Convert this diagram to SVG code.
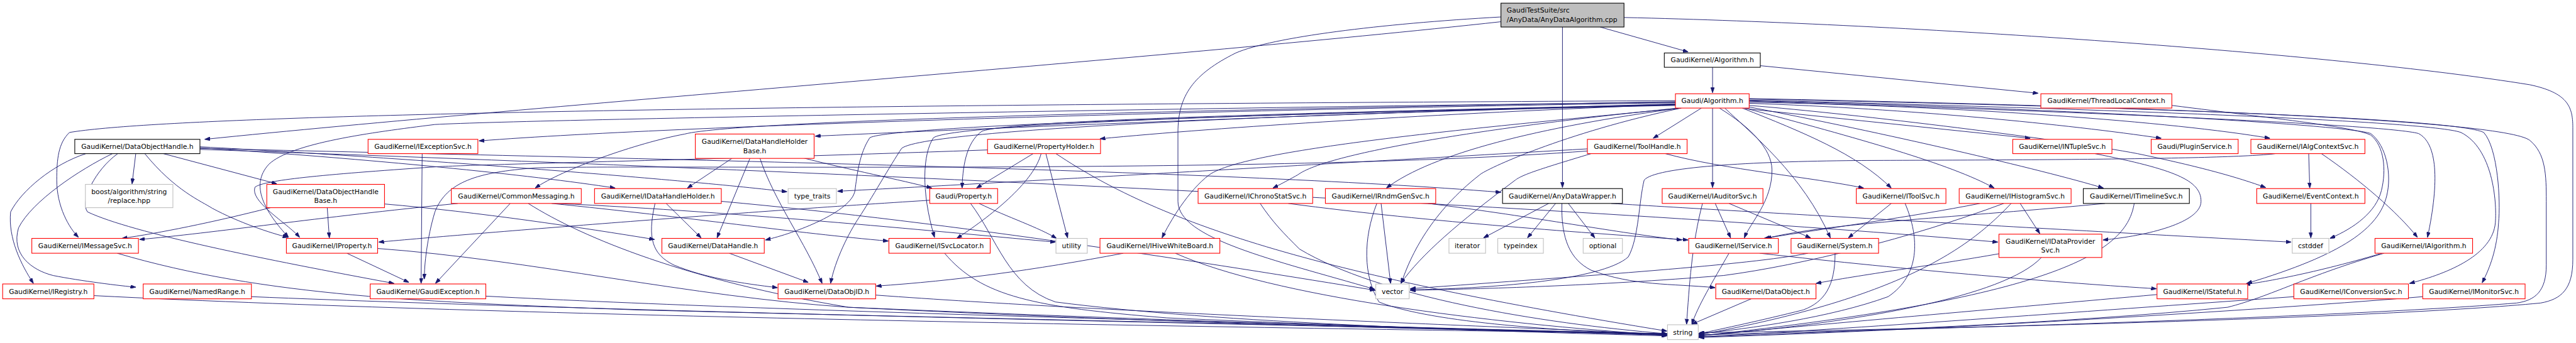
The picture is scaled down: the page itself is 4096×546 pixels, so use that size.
<svg xmlns="http://www.w3.org/2000/svg" width="4096" height="546" viewBox="0 0 4096 546">
<defs>
<style>
.e{fill:none;stroke:#191970;stroke-width:1.1;marker-end:url(#a)}
.n rect{fill:#ffffff;stroke-width:1.3}
.r rect{stroke:#ff0000}
.k rect{stroke:#000000}
.g rect{stroke:#bfbfbf}
text{font-family:"DejaVu Sans","Liberation Sans",sans-serif;font-size:12.8px;fill:#000000;text-anchor:middle}
</style>
<marker id="a" viewBox="0 0 10 7" refX="10" refY="3.5" markerWidth="10" markerHeight="7" markerUnits="userSpaceOnUse" orient="auto"><path d="M0,0L10,3.5L0,7z" fill="#191970" stroke="#191970"/></marker>
</defs>
<rect width="4096" height="546" fill="#ffffff"/>
<g transform="scale(0.84332)">
<g id="edges">
<path class="e" d="M3017,51 L3183,98"/>
<path class="e" d="M2946,51 L2946,354"/>
<path class="e" d="M2830,41 C2200,110 1000,200 386,263"/>
<path class="e" d="M2830,32 C2600,45 2400,70 2330,100 C2250,140 2221,180 2221,250 L2221,380 C2221,450 2400,490 2592,546"/>
<path class="e" d="M3062,33 C3600,45 4400,100 4770,160 C4840,175 4851,200 4851,240 L4851,490 C4851,545 4830,565 4790,572 C4500,600 3700,620 3204,628"/>
<path class="e" d="M3229,127 L3229,175"/>
<path class="e" d="M3319,124 L3843,176"/>
<path class="e" d="M3208,204 L3117,261"/>
<path class="e" d="M3229,204 L3229,354"/>
<path class="e" d="M3290,205 L3828,261"/>
<path class="e" d="M3298,195 C3600,205 3900,235 4075,261"/>
<path class="e" d="M3298,193 C3700,200 4100,230 4280,261"/>
<path class="e" d="M3298,199 C3500,215 3900,265 4030,290 C4150,315 4220,335 4272,354"/>
<path class="e" d="M3298,191 C3900,210 4500,235 4560,252 C4595,270 4600,340 4577,448"/>
<path class="e" d="M3298,189 C3950,205 4580,228 4640,250 C4700,280 4708,380 4705,420 C4700,480 4620,515 4543,535"/>
<path class="e" d="M3298,187 C3950,200 4630,222 4683,250 C4710,280 4715,380 4711,420 C4708,470 4695,505 4680,534"/>
<path class="e" d="M3298,190 C3900,205 4420,235 4470,252 C4500,275 4510,330 4500,370 C4485,430 4420,480 4236,535"/>
<path class="e" d="M4095,199 C4300,225 4440,240 4470,255 C4495,275 4500,320 4490,360 C4480,400 4440,430 4393,450"/>
<path class="e" d="M3298,186 C4000,200 4720,225 4770,265 C4800,290 4801,330 4801,380 L4801,500 C4801,550 4780,567 4745,572 C4400,600 3600,622 3204,632"/>
<path class="e" d="M3242,204 C3300,240 3340,280 3341,320 C3342,380 3300,420 3289,449"/>
<path class="e" d="M3252,204 C3300,250 3400,330 3451,449"/>
<path class="e" d="M3285,204 C3400,250 3500,290 3566,355"/>
<path class="e" d="M3290,204 C3500,260 3680,310 3760,355"/>
<path class="e" d="M3298,202 C3550,250 3850,320 3966,355"/>
<path class="e" d="M3170,204 C2800,240 2350,280 2280,330 C2240,360 2205,420 2191,449"/>
<path class="e" d="M3165,204 C2800,240 2500,290 2447,330 C2420,345 2410,350 2400,355"/>
<path class="e" d="M3168,204 C2900,240 2700,290 2614,355"/>
<path class="e" d="M3170,204 C2950,250 2800,320 2790,330 C2700,400 2660,480 2642,535"/>
<path class="e" d="M3000,290 C2900,320 2870,330 2857,340 C2750,420 2680,480 2641,535"/>
<path class="e" d="M3159,197 C2700,215 2300,240 2074,262"/>
<path class="e" d="M3159,196 C2500,215 1800,245 1537,257"/>
<path class="e" d="M3159,194 C2400,205 1300,235 903,266"/>
<path class="e" d="M3159,190 C2200,195 400,205 131,250 C110,270 107,300 107,340 C107,390 130,430 148,448"/>
<path class="e" d="M3159,192 C2400,205 1400,225 1291,253 C1200,270 1060,320 1009,355"/>
<path class="e" d="M3159,193 C2500,200 1000,225 820,235 C700,250 549,270 507,310 C470,350 500,400 544,448"/>
<path class="e" d="M3159,197 C2600,210 1900,225 1851,248 C1820,270 1815,320 1814,355"/>
<path class="e" d="M3159,198 C2600,210 1800,230 1760,260 C1740,290 1736,360 1762,448"/>
<path class="e" d="M3159,199 C2600,210 1750,240 1700,280 C1680,310 1640,380 1620,410 C1600,440 1575,490 1566,535"/>
<path class="e" d="M3159,198 C2600,210 1680,235 1640,260 C1620,290 1616,330 1612,360 C1605,400 1500,440 1443,453"/>
<path class="e" d="M308,290 L522,347"/>
<path class="e" d="M256,290 L249,347"/>
<path class="e" d="M162,290 C100,310 40,360 20,400 C15,450 40,500 63,535"/>
<path class="e" d="M212,290 C150,320 60,380 35,430 C20,480 60,510 100,520 C150,530 230,540 256,542"/>
<path class="e" d="M222,290 C180,320 150,380 165,400 C250,440 500,490 743,535"/>
<path class="e" d="M273,290 C330,360 380,380 400,393 C450,420 510,440 543,448"/>
<path class="e" d="M377,277 C800,300 1300,340 1484,362"/>
<path class="e" d="M377,279 C700,300 1000,330 1160,355"/>
<path class="e" d="M377,280 C1200,300 2300,320 2830,363"/>
<path class="e" d="M377,282 C1500,320 3000,390 3767,457"/>
<path class="e" d="M510,392 C400,420 300,440 230,450"/>
<path class="e" d="M617,392 L621,449"/>
<path class="e" d="M725,385 C900,400 1100,430 1234,452"/>
<path class="e" d="M796,290 L794,535"/>
<path class="e" d="M1380,299 L1296,355"/>
<path class="e" d="M1414,299 L1352,449"/>
<path class="e" d="M1433,299 C1460,380 1520,460 1550,535"/>
<path class="e" d="M1514,298 C1600,320 1700,340 1757,355"/>
<path class="e" d="M1948,290 L1841,355"/>
<path class="e" d="M1963,290 C1950,340 1880,400 1804,450"/>
<path class="e" d="M1972,290 L2013,449"/>
<path class="e" d="M1862,283 C1400,300 900,310 820,315 C600,330 500,340 481,353 C470,380 540,420 565,448"/>
<path class="e" d="M1991,290 C2200,430 2500,520 3143,625"/>
<path class="e" d="M863,384 C600,410 400,440 263,452"/>
<path class="e" d="M962,384 L821,535"/>
<path class="e" d="M996,384 C1100,450 1300,530 1600,580 C2200,610 2800,625 3143,630"/>
<path class="e" d="M1040,384 C1300,410 1500,440 1675,455"/>
<path class="e" d="M1050,384 C1400,400 1800,440 1990,457"/>
<path class="e" d="M1256,384 L1322,449"/>
<path class="e" d="M1235,384 C1220,450 1230,480 1270,500 C1330,525 1400,535 1466,543"/>
<path class="e" d="M1360,380 C1800,420 2300,500 2593,548"/>
<path class="e" d="M2993,281 C2400,315 1800,350 1579,361"/>
<path class="e" d="M3140,290 C3250,320 3420,335 3514,355"/>
<path class="e" d="M2993,285 C2400,330 1200,310 1009,317 C900,325 842,343 820,400 C805,450 800,500 800,527"/>
<path class="e" d="M2429,384 C2700,420 3000,440 3183,453"/>
<path class="e" d="M2376,384 C2400,420 2420,440 2450,470 C2600,560 2900,610 3143,630"/>
<path class="e" d="M2596,384 C2570,450 2570,520 2600,570 C2700,610 2950,625 3143,632"/>
<path class="e" d="M2604,384 L2622,535"/>
<path class="e" d="M2693,384 C2900,410 3050,440 3171,453"/>
<path class="e" d="M2920,384 L2797,449"/>
<path class="e" d="M2933,384 L2880,449"/>
<path class="e" d="M2957,384 L3007,449"/>
<path class="e" d="M2945,384 C2943,450 2960,490 3000,510 C3080,540 3150,535 3234,543"/>
<path class="e" d="M3038,384 C3300,400 4000,440 4320,457"/>
<path class="e" d="M3234,384 L3263,449"/>
<path class="e" d="M3260,384 L3414,449"/>
<path class="e" d="M3210,384 C3190,460 3185,540 3180,612"/>
<path class="e" d="M3566,384 L3485,449"/>
<path class="e" d="M3592,384 C3620,450 3620,520 3560,560 C3450,600 3300,620 3203,630"/>
<path class="e" d="M3733,384 C3600,410 3450,430 3326,450"/>
<path class="e" d="M3809,384 L3846,441"/>
<path class="e" d="M3792,384 C3720,460 3600,560 3203,632"/>
<path class="e" d="M3778,384 C3600,450 3400,500 3250,520 C3000,540 2800,545 2659,548"/>
<path class="e" d="M3969,384 C3700,410 3450,420 3330,450"/>
<path class="e" d="M4024,384 C4010,470 3900,560 3203,634"/>
<path class="e" d="M4357,384 L4357,449"/>
<path class="e" d="M4353,290 L4355,355"/>
<path class="e" d="M4377,290 C4450,340 4520,400 4558,448"/>
<path class="e" d="M4290,290 C4200,302 3700,302 3500,303 C3300,305 3120,315 3100,340 C3090,380 3090,450 3070,485 C3020,530 2800,545 2659,547"/>
<path class="e" d="M3950,290 C4100,320 4150,340 4150,380 C4150,420 4050,445 3965,453"/>
<path class="e" d="M4067,556 C3800,580 3400,615 3203,634"/>
<path class="e" d="M3318,478 C3600,510 3900,535 4066,545"/>
<path class="e" d="M3260,478 C3230,530 3200,580 3190,612"/>
<path class="e" d="M3460,478 C3460,540 3440,570 3400,585 C3320,605 3250,620 3203,630"/>
<path class="e" d="M3409,478 C3300,500 3000,520 2659,545"/>
<path class="e" d="M3769,479 C3650,500 3500,520 3424,535"/>
<path class="e" d="M3849,486 C3780,560 3500,610 3203,634"/>
<path class="e" d="M3302,564 L3190,612"/>
<path class="e" d="M4491,478 C4350,520 4250,535 4233,537"/>
<path class="e" d="M4495,478 C4350,520 4280,560 4200,580 C3900,610 3500,625 3203,636"/>
<path class="e" d="M4325,560 C3900,590 3500,620 3203,636"/>
<path class="e" d="M4568,560 C4200,590 3600,625 3203,637"/>
<path class="e" d="M177,558 C1000,600 2500,620 3143,630"/>
<path class="e" d="M474,560 C1200,590 2500,615 3143,630"/>
<path class="e" d="M916,559 C1500,590 2600,615 3143,631"/>
<path class="e" d="M1651,557 C2100,590 2800,615 3143,631"/>
<path class="e" d="M221,478 C500,560 800,570 1200,585 C2000,605 2800,620 3143,632"/>
<path class="e" d="M712,469 C1000,490 1300,560 1600,580 C2300,610 2800,622 3143,632"/>
<path class="e" d="M654,478 L771,533"/>
<path class="e" d="M1781,478 C1850,560 1950,580 2200,600 C2600,618 2900,625 3143,633"/>
<path class="e" d="M2118,478 C1950,510 1800,530 1652,540"/>
<path class="e" d="M2216,478 C2400,560 2800,610 3143,633"/>
<path class="e" d="M1375,478 L1524,533"/>
<path class="e" d="M1753,378 C1400,400 900,440 714,457"/>
<path class="e" d="M1846,384 C1900,410 1960,430 1992,450"/>
<path class="e" d="M1830,384 C1880,450 1900,540 1990,570 C2300,610 2800,625 3143,634"/>
</g>
<g id="n_root" class="n k"><rect x="2830" y="6" width="232" height="45" style="fill:#bfbfbf"/><text x="2841" y="24" style="text-anchor:start">GaudiTestSuite/src</text><text x="2841" y="41" style="text-anchor:start">/AnyData/AnyDataAlgorithm.cpp</text></g>
<g id="n_gkalg" class="n k"><rect x="3138" y="100" width="181" height="27"/><text x="3228.5" y="118">GaudiKernel/Algorithm.h</text></g>
<g id="n_galg" class="n r"><rect x="3159" y="177" width="139" height="27"/><text x="3228.5" y="195">Gaudi/Algorithm.h</text></g>
<g id="n_tlc" class="n r"><rect x="3848" y="177" width="247" height="27"/><text x="3971.5" y="195">GaudiKernel/ThreadLocalContext.h</text></g>
<g id="n_doh" class="n k"><rect x="141" y="263" width="236" height="27"/><text x="259" y="281">GaudiKernel/DataObjectHandle.h</text></g>
<g id="n_iexc" class="n r"><rect x="694" y="263" width="207" height="27"/><text x="797.5" y="281">GaudiKernel/IExceptionSvc.h</text></g>
<g id="n_dhhb" class="n r"><rect x="1311" y="253" width="224" height="46"/><text x="1423" y="272">GaudiKernel/DataHandleHolder</text><text x="1423" y="289">Base.h</text></g>
<g id="n_ph" class="n r"><rect x="1862" y="263" width="213" height="27"/><text x="1968.5" y="281">GaudiKernel/PropertyHolder.h</text></g>
<g id="n_th" class="n r"><rect x="2993" y="263" width="188" height="27"/><text x="3087" y="281">GaudiKernel/ToolHandle.h</text></g>
<g id="n_nt" class="n r"><rect x="3795" y="263" width="187" height="27"/><text x="3888.5" y="281">GaudiKernel/INTupleSvc.h</text></g>
<g id="n_ps" class="n r"><rect x="4056" y="263" width="164" height="27"/><text x="4138" y="281">Gaudi/PluginService.h</text></g>
<g id="n_iacs" class="n r"><rect x="4244" y="263" width="215" height="27"/><text x="4351.5" y="281">GaudiKernel/IAlgContextSvc.h</text></g>
<g id="n_boost" class="n g"><rect x="161" y="348" width="165" height="44"/><text x="243.5" y="366">boost/algorithm/string</text><text x="243.5" y="383">/replace.hpp</text></g>
<g id="n_dohb" class="n r"><rect x="503" y="348" width="222" height="44"/><text x="614" y="366">GaudiKernel/DataObjectHandle</text><text x="614" y="383">Base.h</text></g>
<g id="n_cm" class="n r"><rect x="851" y="356" width="245" height="28"/><text x="973.5" y="374.5">GaudiKernel/CommonMessaging.h</text></g>
<g id="n_idhh" class="n r"><rect x="1121" y="356" width="239" height="28"/><text x="1240.5" y="374.5">GaudiKernel/IDataHandleHolder.h</text></g>
<g id="n_tt" class="n g"><rect x="1486" y="356" width="91" height="28"/><text x="1531.5" y="374.5">type_traits</text></g>
<g id="n_prop" class="n r"><rect x="1753" y="356" width="128" height="28"/><text x="1817" y="374.5">Gaudi/Property.h</text></g>
<g id="n_icss" class="n r"><rect x="2259" y="356" width="216" height="28"/><text x="2367" y="374.5">GaudiKernel/IChronoStatSvc.h</text></g>
<g id="n_irgs" class="n r"><rect x="2499" y="356" width="208" height="28"/><text x="2603" y="374.5">GaudiKernel/IRndmGenSvc.h</text></g>
<g id="n_adw" class="n k"><rect x="2833" y="356" width="226" height="28"/><text x="2946" y="374.5">GaudiKernel/AnyDataWrapper.h</text></g>
<g id="n_iaud" class="n r"><rect x="3134" y="356" width="190" height="28"/><text x="3229" y="374.5">GaudiKernel/IAuditorSvc.h</text></g>
<g id="n_itool" class="n r"><rect x="3500" y="356" width="169" height="28"/><text x="3584.5" y="374.5">GaudiKernel/IToolSvc.h</text></g>
<g id="n_ihist" class="n r"><rect x="3694" y="356" width="211" height="28"/><text x="3799.5" y="374.5">GaudiKernel/IHistogramSvc.h</text></g>
<g id="n_itl" class="n k"><rect x="3928" y="356" width="200" height="28"/><text x="4028" y="374.5">GaudiKernel/ITimelineSvc.h</text></g>
<g id="n_ec" class="n r"><rect x="4255" y="356" width="204" height="28"/><text x="4357" y="374.5">GaudiKernel/EventContext.h</text></g>
<g id="n_ims" class="n r"><rect x="60" y="450" width="201" height="28"/><text x="160.5" y="468.5">GaudiKernel/IMessageSvc.h</text></g>
<g id="n_iprop" class="n r"><rect x="540" y="450" width="172" height="28"/><text x="626" y="468.5">GaudiKernel/IProperty.h</text></g>
<g id="n_dh" class="n r"><rect x="1248" y="450" width="193" height="28"/><text x="1344.5" y="468.5">GaudiKernel/DataHandle.h</text></g>
<g id="n_isl" class="n r"><rect x="1676" y="450" width="191" height="28"/><text x="1771.5" y="468.5">GaudiKernel/ISvcLocator.h</text></g>
<g id="n_util" class="n g"><rect x="1991" y="450" width="59" height="28"/><text x="2020.5" y="468.5">utility</text></g>
<g id="n_ihwb" class="n r"><rect x="2074" y="450" width="226" height="28"/><text x="2187" y="468.5">GaudiKernel/IHiveWhiteBoard.h</text></g>
<g id="n_iter" class="n g"><rect x="2732" y="450" width="69" height="28"/><text x="2766.5" y="468.5">iterator</text></g>
<g id="n_tidx" class="n g"><rect x="2824" y="450" width="86" height="28"/><text x="2867" y="468.5">typeindex</text></g>
<g id="n_opt" class="n g"><rect x="2985" y="450" width="74" height="28"/><text x="3022" y="468.5">optional</text></g>
<g id="n_isvc" class="n r"><rect x="3184" y="450" width="169" height="28"/><text x="3268.5" y="468.5">GaudiKernel/IService.h</text></g>
<g id="n_sys" class="n r"><rect x="3377" y="450" width="165" height="28"/><text x="3459.5" y="468.5">GaudiKernel/System.h</text></g>
<g id="n_idps" class="n r"><rect x="3769" y="442" width="194" height="44"/><text x="3866" y="460">GaudiKernel/IDataProvider</text><text x="3866" y="477">Svc.h</text></g>
<g id="n_cstd" class="n g"><rect x="4322" y="450" width="69" height="28"/><text x="4356.5" y="468.5">cstddef</text></g>
<g id="n_ialgo" class="n r"><rect x="4478" y="450" width="184" height="28"/><text x="4570" y="468.5">GaudiKernel/IAlgorithm.h</text></g>
<g id="n_ireg" class="n r"><rect x="5" y="536" width="172" height="28"/><text x="91" y="554.5">GaudiKernel/IRegistry.h</text></g>
<g id="n_nr" class="n r"><rect x="270" y="536" width="204" height="28"/><text x="372" y="554.5">GaudiKernel/NamedRange.h</text></g>
<g id="n_ge" class="n r"><rect x="698" y="536" width="218" height="28"/><text x="807" y="554.5">GaudiKernel/GaudiException.h</text></g>
<g id="n_doid" class="n r"><rect x="1467" y="536" width="184" height="28"/><text x="1559" y="554.5">GaudiKernel/DataObjID.h</text></g>
<g id="n_vec" class="n g"><rect x="2594" y="536" width="63" height="28"/><text x="2625.5" y="554.5">vector</text></g>
<g id="n_do" class="n r"><rect x="3235" y="536" width="189" height="28"/><text x="3329.5" y="554.5">GaudiKernel/DataObject.h</text></g>
<g id="n_istf" class="n r"><rect x="4067" y="536" width="171" height="28"/><text x="4152.5" y="554.5">GaudiKernel/IStateful.h</text></g>
<g id="n_ics" class="n r"><rect x="4325" y="536" width="216" height="28"/><text x="4433" y="554.5">GaudiKernel/IConversionSvc.h</text></g>
<g id="n_imon" class="n r"><rect x="4568" y="536" width="193" height="28"/><text x="4664.5" y="554.5">GaudiKernel/IMonitorSvc.h</text></g>
<g id="n_str" class="n g"><rect x="3144" y="613" width="58" height="28"/><text x="3173" y="631.5">string</text></g>
</g>
</svg>
